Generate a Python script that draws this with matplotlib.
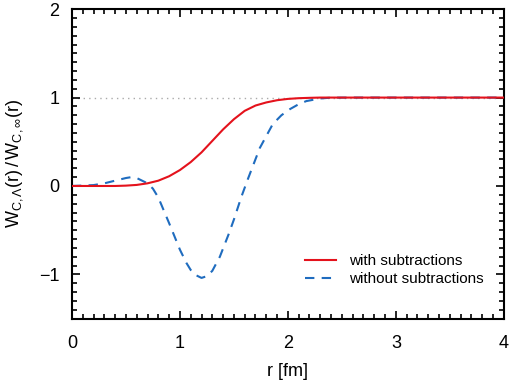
import numpy as np
from matplotlib import pyplot as plt
from matplotlib.ticker import MultipleLocator

plt.rcParams['font.family'] = ['Liberation Sans', 'DejaVu Sans']
plt.rcParams['mathtext.fontset'] = 'custom'
plt.rcParams['mathtext.rm'] = 'Liberation Sans'
plt.rcParams['mathtext.it'] = 'Liberation Sans:italic'

# curve with subtractions
r_with = [0.0, 0.2, 0.4, 0.5, 0.6, 0.7, 0.8, 0.9, 1.0, 1.1, 1.2, 1.3, 1.4, 1.5,
          1.6, 1.7, 1.8, 1.9, 2.0, 2.1, 2.2, 2.3, 2.5, 3.0, 4.0]
w_with = [0.0, 0.0, 0.0, 0.004, 0.012, 0.03, 0.06, 0.11, 0.18, 0.27, 0.38, 0.51,
          0.64, 0.755, 0.85, 0.91, 0.945, 0.97, 0.985, 0.993, 0.997, 1.0, 1.0,
          1.0, 1.0]

# curve without subtractions
r_without = [0.0, 0.2, 0.3, 0.4, 0.5, 0.55, 0.6, 0.7, 0.75, 0.8, 0.9, 1.0, 1.06,
             1.1, 1.15, 1.2, 1.25, 1.3, 1.37, 1.45, 1.5, 1.57, 1.63, 1.74, 1.86,
             1.94, 2.02, 2.1, 2.17, 2.3, 2.4, 2.6, 3.0, 4.0]
w_without = [0.0, 0.01, 0.03, 0.06, 0.09, 0.10, 0.09, 0.03, -0.03, -0.13, -0.42,
             -0.72, -0.87, -0.95, -1.01, -1.04, -1.02, -0.96, -0.80, -0.55, -0.38,
             -0.12, 0.08, 0.43, 0.70, 0.80, 0.87, 0.925, 0.96, 0.99, 0.999, 1.0,
             1.0, 1.0]

fig = plt.figure(figsize=(5.1, 3.82), dpi=100)
ax = fig.add_axes([0.141, 0.166, 0.847, 0.81])

ax.axhline(1.0, color='#aaaaaa', linestyle=(0, (1, 3)), linewidth=1.0, zorder=1)
ax.plot(r_with, w_with, color='#e4121c', linewidth=1.5, label='with subtractions', zorder=3)
ax.plot(r_without, w_without, color='#1f6cbf', linewidth=1.5, linestyle=(0, (4.5, 3.5)),
        label='without subtractions', zorder=2)

ax.set_xlim(0, 4)
ax.set_ylim(-1.5, 2)
ax.xaxis.set_major_locator(MultipleLocator(1))
ax.xaxis.set_minor_locator(MultipleLocator(0.1))
ax.yaxis.set_major_locator(MultipleLocator(1))
ax.yaxis.set_minor_locator(MultipleLocator(0.1))
ax.tick_params(which='both', direction='in', top=True, right=True, width=1.2)
ax.tick_params(which='major', length=6, labelsize=13)
ax.tick_params(which='minor', length=3.5)
ax.tick_params(axis='x', which='major', pad=12)
ax.tick_params(axis='y', which='major', pad=9)
for s in ax.spines.values():
    s.set_linewidth(1.5)

ax.set_xlabel('r [fm]', fontsize=13, labelpad=8)
ax.set_ylabel(r'$\mathrm{W_{C,\Lambda}(r)\,/\,W_{C,\infty}(r)}$', fontsize=13, labelpad=10)

ax.legend(loc='lower right', bbox_to_anchor=(0.985, 0.06), frameon=False, fontsize=11,
          handlelength=2.0, handletextpad=0.85, labelspacing=0.25)

fig.savefig('out.png', dpi=100)
